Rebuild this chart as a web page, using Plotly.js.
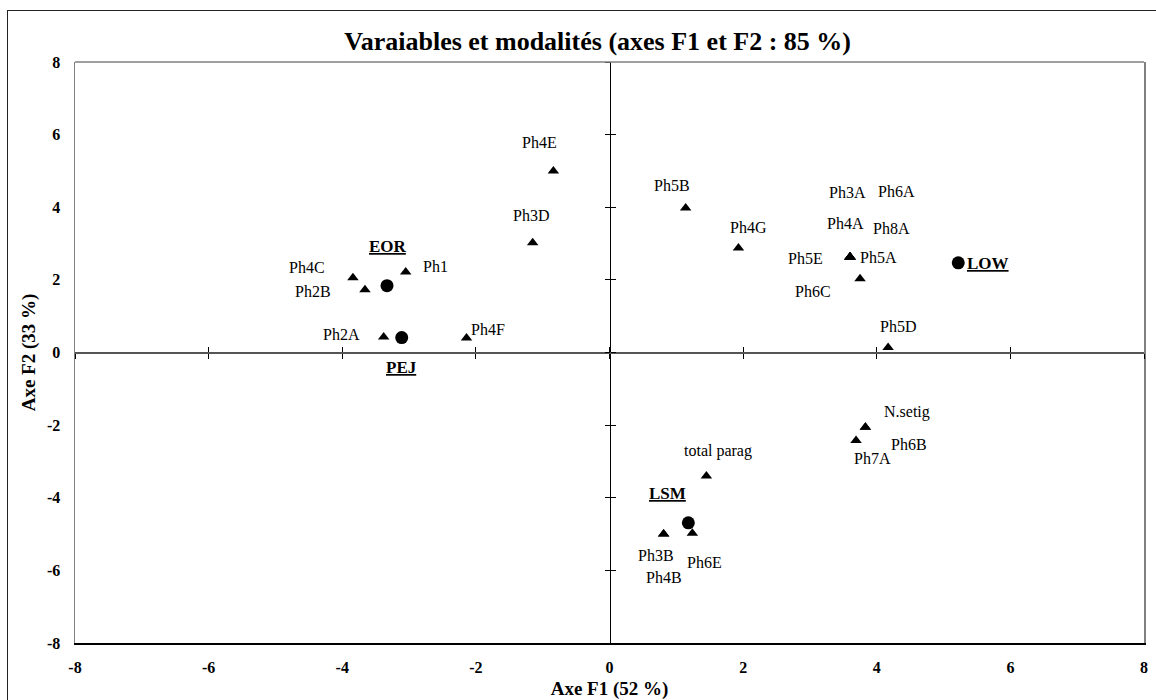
<!DOCTYPE html>
<html>
<head>
<meta charset="utf-8">
<script src="https://cdn.plot.ly/plotly-3.0.1.min.js"></script>
<style>
  html, body { margin: 0; padding: 0; background: #fff; }
  #wrap { position: relative; width: 1156px; height: 700px; overflow: hidden; }
  #chart { width: 1156px; height: 700px; }
  #border { position: absolute; left: 7px; top: 10px; width: 1200px; height: 800px;
            border: 1.5px solid #222; pointer-events: none; }
</style>
</head>
<body>
<div id="wrap"><div id="chart"></div><div id="border"></div></div>
<script>
// ---- Data: variables (triangles) ----
const varNames = ["Ph4E","Ph3D","Ph1","Ph4C","Ph2B","Ph2A","Ph4F","Ph5B","Ph4G",
                  "Ph5A","Ph5E","Ph3A","Ph6A","Ph4A","Ph8A","Ph6C","Ph5D",
                  "N.setig","Ph6B","Ph7A","total parag","Ph6E","Ph3B","Ph4B"];
const varF1 = [-0.84,-1.15,-3.05,-3.84,-3.66,-3.38,-2.14,1.14,1.93,
               3.60,3.60,3.60,3.60,3.60,3.60,3.75,4.17,
               3.83,3.83,3.69,1.45,1.24,0.81,0.81];
const varF2 = [5.00,3.02,2.22,2.06,1.73,0.43,0.40,3.98,2.88,
               2.63,2.63,2.63,2.63,2.63,2.63,2.03,0.14,
               -2.06,-2.06,-2.42,-3.40,-4.98,-5.00,-5.00];

// ---- Data: modalities (circles) ----
const modNames = ["EOR","PEJ","LOW","LSM"];
const modF1 = [-3.33,-3.11,5.22,1.18];
const modF2 = [1.84,0.41,2.47,-4.69];

// ---- Axis ticks ----
const tickVals = [-8,-6,-4,-2,0,2,4,6,8];
const tickText = ["-8","-6","-4","-2","0","2","4","6","8"];

// ---- Label placement (pixel offsets, style only) ----
const varLabelDX = [-14,-2,30,-46,-52,-42,21,-14,10, 28,-45,-3,46,-5,41,-47,10, 42,44,16,12,12,-8,0];
const varLabelDY = [28,27,5,10,-2,2,8,22,20, 0,-1,65,66,34,29,-13,21, 15,-17,-18,25,-29,-21,-43];
const modLabelDX = [1,0,30,-21];
const modLabelDY = [39,-30,-1,29];

const serif = "Liberation Serif, Times New Roman, serif";

const traces = [
  { type: "scatter", mode: "markers", x: varF1, y: varF2, text: varNames,
    marker: { symbol: "triangle-up", size: 10, color: "#000" }, hoverinfo: "text" },
  { type: "scatter", mode: "markers", x: modF1, y: modF2, text: modNames,
    marker: { symbol: "circle", size: 13, color: "#000" }, hoverinfo: "text" },
  { type: "scatter", x: [], y: [], xaxis: "x2", yaxis: "y", showlegend: false },
  { type: "scatter", x: [], y: [], xaxis: "x3", yaxis: "y", showlegend: false },
  { type: "scatter", x: [], y: [], xaxis: "x", yaxis: "y2", showlegend: false },
  { type: "scatter", x: [], y: [], xaxis: "x", yaxis: "y3", showlegend: false }
];

const annotations = [];
varNames.forEach((n, i) => annotations.push({
  x: varF1[i], y: varF2[i], text: n, showarrow: false,
  xshift: varLabelDX[i], yshift: varLabelDY[i],
  font: { family: serif, size: 16, color: "#000" }
}));
modNames.forEach((n, i) => annotations.push({
  x: modF1[i], y: modF2[i], text: "<b><u>" + n + "</u></b>", showarrow: false,
  xshift: modLabelDX[i], yshift: modLabelDY[i],
  font: { family: serif, size: 17, color: "#000" }
}));

const crossAxis = (ticks, color, width) => ({
  range: [-8, 8], tickvals: tickVals, ticks: ticks, ticklen: 5, tickwidth: 1,
  tickcolor: "#000", showticklabels: false, showgrid: false, zeroline: false,
  showline: true, linecolor: color, linewidth: width, anchor: "free", position: 0.5
});

const layout = {
  width: 1156, height: 700,
  margin: { l: 75, r: 12, t: 62, b: 57 },
  paper_bgcolor: "#fff", plot_bgcolor: "#fff",
  showlegend: false,
  font: { family: serif, color: "#000" },
  title: { text: "<b>Varaiables et modalités (axes F1 et F2 : 85 %)</b>",
           font: { family: serif, size: 26, color: "#000" },
           xref: "container", x: 0.517, xanchor: "center",
           yref: "container", y: 0.941, yanchor: "middle" },
  xaxis: {
    range: [-8, 8], tickvals: tickVals, ticktext: tickText, ticks: "",
    showgrid: false, zeroline: false, showline: true, linecolor: "#000", linewidth: 1.5,
    ticklabelstandoff: 9,
    tickfont: { family: serif, size: 16, color: "#000", weight: "bold" },
    title: { text: "<b>Axe F1 (52 %)</b>", font: { family: serif, size: 19, color: "#000" }, standoff: 8 }
  },
  yaxis: {
    range: [-8, 8], tickvals: tickVals, ticktext: tickText, ticks: "",
    showgrid: false, zeroline: false, showline: true, mirror: true,
    linecolor: "#808080", linewidth: 1.5,
    ticklabelstandoff: 10,
    tickfont: { family: serif, size: 16, color: "#000", weight: "bold" },
    title: { text: "<b>Axe F2 (33 %)</b>", font: { family: serif, size: 19, color: "#000" }, standoff: 6 }
  },
  xaxis2: Object.assign(crossAxis("outside", "#555", 2), { overlaying: "x" }),
  xaxis3: Object.assign(crossAxis("inside", "#555", 2), { overlaying: "x" }),
  yaxis2: Object.assign(crossAxis("outside", "#000", 1.5), { overlaying: "y" }),
  yaxis3: Object.assign(crossAxis("inside", "#000", 1.5), { overlaying: "y" }),
  shapes: [
    { type: "line", xref: "paper", yref: "paper", x0: 0, x1: 1, y0: 1, y1: 1,
      line: { color: "#808080", width: 1.5 } }
  ],
  annotations: annotations
};

Plotly.newPlot("chart", traces, layout, { displayModeBar: false, staticPlot: true });
</script>
</body>
</html>
